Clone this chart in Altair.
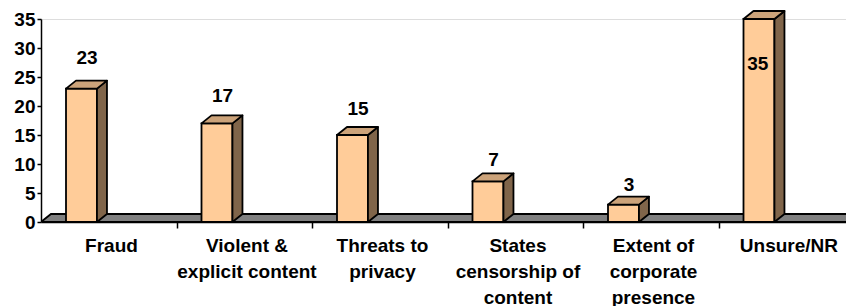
import altair as alt
import pandas as pd

categories = [
    "Fraud",
    "Violent &\nexplicit content",
    "Threats to\nprivacy",
    "States\ncensorship of\ncontent",
    "Extent of\ncorporate\npresence",
    "Unsure/NR",
]
values = [23, 17, 15, 7, 3, 35]
y_ticks = [0, 5, 10, 15, 20, 25, 30, 35]

Y_MAX = 35
N = len(categories)
PLOT_W, PLOT_H = 813, 203
DX = 10 / (PLOT_W / N)          # 3D depth, horizontal (x units)
DY = 8 / (PLOT_H / Y_MAX)       # 3D depth, vertical (y units)
F0, F1 = 0.1845, 0.413          # bar front face within band

FONT = "Liberation Sans"
FRONT, SIDE, TOP, FLOOR = "#FFCC99", "#80654A", "#CCA37A", "#808080"
SW = 1.8

bars = pd.DataFrame({"cat": categories, "value": values, "idx": list(range(N))})

# side faces: two points per bar
side_rows = []
for i, (c, v) in enumerate(zip(categories, values)):
    side_rows.append({"cat": c, "x": i + F1, "lo": 0.0, "hi": v})
    side_rows.append({"cat": c, "x": i + F1 + DX, "lo": DY, "hi": v + DY})
side = pd.DataFrame(side_rows)

# top faces
top_rows = []
for i, (c, v) in enumerate(zip(categories, values)):
    top_rows.append({"cat": c, "y": v, "xa": i + F0, "xb": i + F1})
    top_rows.append({"cat": c, "y": v + DY, "xa": i + F0 + DX, "xb": i + F1 + DX})
top = pd.DataFrame(top_rows)

floor = pd.DataFrame({"x": [0, DX, N + 0.2], "lo": [0, 0, 0], "hi": [0, DY, DY]})

xscale = alt.Scale(domain=[0, N], nice=False, zero=False)
yscale = alt.Scale(domain=[0, Y_MAX], nice=False)

x_axis = alt.Axis(values=list(range(1, N)), labels=False, title=None, tickSize=6,
                  tickColor="black", domainColor="black", domainWidth=1.5, tickWidth=1.5, grid=False)
y_axis = alt.Axis(values=y_ticks, title=None, tickSize=4, tickColor="black", tickWidth=1.5,
                  domainColor="black", domainWidth=1.5, grid=False, labelFont=FONT,
                  labelFontSize=19, labelFontWeight="bold", labelColor="black", labelPadding=2)

def X(field, **kw):
    return alt.X(field, type="quantitative", scale=xscale, axis=x_axis, stack=None, **kw)

def Y(field, **kw):
    return alt.Y(field, type="quantitative", scale=yscale, axis=y_axis, stack=None, **kw)

floor_layer = alt.Chart(floor).mark_area(fill=FLOOR, stroke="black", strokeWidth=SW, clip=True).encode(
    x=X("x"), y=Y("lo"), y2="hi:Q"
)

front_layer = alt.Chart(bars).transform_calculate(
    x0=f"datum.idx + {F0}", x1=f"datum.idx + {F1}"
).mark_rect(fill=FRONT, stroke="black", strokeWidth=SW).encode(
    x=X("x0"), x2="x1:Q", y=Y("value"), y2=alt.datum(0)
)

side_layer = alt.Chart(side).mark_area(fill=SIDE, stroke="black", strokeWidth=SW, strokeJoin="round").encode(
    x=X("x"), y=Y("lo"), y2="hi:Q", detail="cat:N"
)

top_layer = alt.Chart(top).mark_area(orient="horizontal", fill=TOP, stroke="black", strokeWidth=SW,
                                     strokeJoin="round").encode(
    y=Y("y"), x=X("xa"), x2="xb:Q", detail="cat:N"
)

value_labels = alt.Chart(bars).transform_calculate(
    lx=f"datum.value >= {Y_MAX} ? datum.idx + 0.29 : datum.idx + 0.34",
    ly=f"datum.value >= {Y_MAX} ? datum.value * 0.75 : datum.value * 1.095 + 2.0",
).mark_text(font=FONT, fontSize=19, fontWeight="bold", color="black", baseline="alphabetic", align="center").encode(
    x=X("lx"), y=Y("ly"), text="value:Q"
)

cat_labels = alt.Chart(bars).transform_calculate(
    cx="datum.idx + 0.52"
).mark_text(font=FONT, fontSize=19, fontWeight="bold", color="black", baseline="alphabetic",
            align="center", lineBreak="\n", lineHeight=26).encode(
    x=X("cx"), y=alt.value(PLOT_H + 30), text="cat:N"
)

chart = alt.layer(floor_layer, front_layer, side_layer, top_layer, value_labels, cat_labels).properties(
    width=PLOT_W, height=PLOT_H,
    autosize=alt.AutoSizeParams(type="none"),
    padding={"left": 33, "top": 11, "right": -8, "bottom": 84},
).configure_view(strokeWidth=0).configure(background="white")

chart.save("out.html", embed_options={"renderer": "svg", "actions": False})
